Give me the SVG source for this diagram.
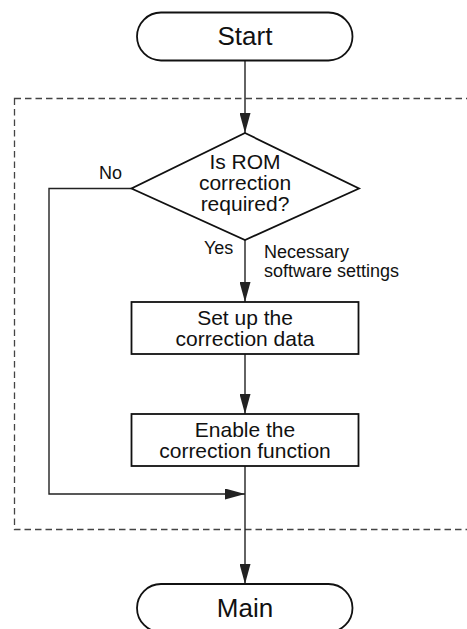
<svg xmlns="http://www.w3.org/2000/svg" width="467" height="629" viewBox="0 0 467 629">
<style>
.shape{fill:#fff;stroke:#111;stroke-width:1.8}
.conn{fill:none;stroke:#222;stroke-width:1.4}
.t{font-family:"Liberation Sans",Arial,sans-serif;fill:#111;text-anchor:middle}
.term{font-size:26px}
.box{font-size:21px}
.lbl{font-family:"Liberation Sans",Arial,sans-serif;fill:#111;font-size:18px}
.frame{fill:none;stroke:#444;stroke-width:1.3;stroke-dasharray:6.5,4}
</style>
<defs>
<marker id="arr" markerUnits="userSpaceOnUse" markerWidth="20" markerHeight="11" refX="20" refY="5.5" orient="auto">
<path d="M0,0 L20,5.5 L0,11 z" fill="#222"/>
</marker>
</defs>
<rect id="frame" class="frame" x="14.5" y="98.5" width="470" height="431"/>
<g id="connectors">
<path class="conn" d="M245,60.5 V133" marker-end="url(#arr)"/>
<path class="conn" d="M245,240 V302" marker-end="url(#arr)"/>
<path class="conn" d="M245,354 V414" marker-end="url(#arr)"/>
<path class="conn" d="M245,466 V584" marker-end="url(#arr)"/>
<path class="conn" d="M131.5,188.5 H49 V494 H245" marker-end="url(#arr)"/>
<text class="lbl" x="99" y="179">No</text>
<text class="lbl" x="204" y="253.5">Yes</text>
<text class="lbl" x="264" y="258">Necessary</text>
<text class="lbl" x="264" y="276.5">software settings</text>
</g>
<g id="start">
<rect class="shape" x="137" y="12.5" width="215.5" height="48" rx="24" ry="24"/>
<text class="t term" x="245" y="45">Start</text>
</g>
<g id="decision">
<polygon class="shape" points="245,133 359,188.5 245,240 131.5,188.5"/>
<text class="t box" x="245" y="169">Is ROM</text>
<text class="t box" x="245" y="190">correction</text>
<text class="t box" x="245" y="211">required?</text>
</g>
<g id="setup">
<rect class="shape" x="131.5" y="302" width="227" height="52"/>
<text class="t box" x="245" y="325">Set up the</text>
<text class="t box" x="245" y="346">correction data</text>
</g>
<g id="enable">
<rect class="shape" x="131.5" y="414" width="227" height="52"/>
<text class="t box" x="245" y="436.5">Enable the</text>
<text class="t box" x="245" y="457.5">correction function</text>
</g>
<g id="main">
<rect class="shape" x="137" y="584" width="215.5" height="48" rx="24" ry="24"/>
<text class="t term" x="245" y="617">Main</text>
</g>
</svg>
